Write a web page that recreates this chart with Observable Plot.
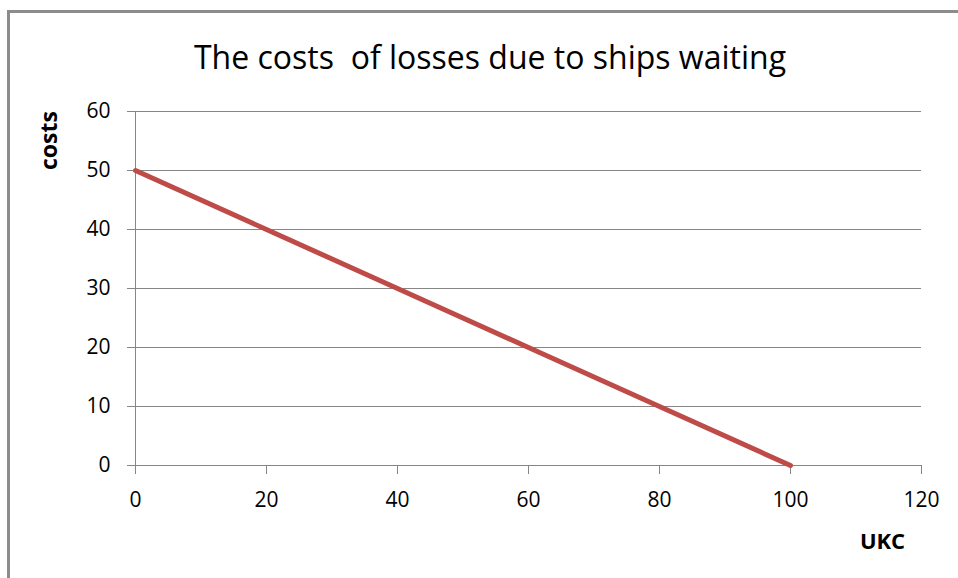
<!DOCTYPE html>
<html>
<head>
<meta charset="utf-8">
<script src="https://cdn.jsdelivr.net/npm/d3@7"></script>
<script src="https://cdn.jsdelivr.net/npm/@observablehq/plot@0.6"></script>
<style>
  html, body { margin: 0; padding: 0; background: #fff; overflow: hidden; }
  #frame { position: absolute; left: 7px; top: 10px; width: 1100px; height: 800px;
           border: 3px solid #8c8c8c; box-sizing: border-box; }
  #wrap { position: absolute; left: 0; top: 0; width: 958px; }
  #title { height: 90px; box-sizing: border-box; padding-top: 41px; text-align: center;
           font-family: "Open Sans", sans-serif; font-size: 32px; line-height: 32px;
           white-space: pre; color: #000; padding-left: 22px; }
</style>
</head>
<body>
<div id="frame"></div>
<div id="wrap">
  <div id="title">The costs  of losses due to ships waiting</div>
  <div id="chart"></div>
</div>
<script>
// Data
const ukc = [0, 20, 40, 60, 80, 100];
const costs = [50, 40, 30, 20, 10, 0];
const xTicks = [0, 20, 40, 60, 80, 100, 120];
const yTicks = [0, 10, 20, 30, 40, 50, 60];
const xLabel = "UKC";
const yLabel = "costs";

const data = ukc.map((u, i) => ({ukc: u, cost: costs[i]}));
const gray = "#868686";

const chart = Plot.plot({
  width: 958,
  height: 488,
  marginLeft: 135,
  marginRight: 37,
  marginTop: 21,
  marginBottom: 113,
  style: { fontFamily: "Open Sans, sans-serif", fontSize: "21px", color: "#000", background: "transparent", overflow: "visible" },
  x: { domain: [0, 120] },
  y: { domain: [0, 60] },
  marks: [
    Plot.gridY(yTicks, { stroke: gray, strokeOpacity: 1, strokeWidth: 1 }),
    Plot.ruleX([0], { stroke: gray, strokeWidth: 1 }),
    Plot.axisY(yTicks, { tickSize: 8, tickPadding: 17, stroke: gray, strokeOpacity: 1, label: null, fill: "#000" }),
    Plot.axisX(xTicks, { tickSize: 9, tickPadding: 18, stroke: gray, strokeOpacity: 1, label: null, fill: "#000" }),
    Plot.line(data, { x: "ukc", y: "cost", stroke: "#BE4B48", strokeWidth: 5, strokeLinecap: "round" }),
    Plot.text([yLabel], { frameAnchor: "top-left", dx: -95, dy: 29, rotate: -90, fontWeight: "bold", fontSize: 23, textAnchor: "middle", fill: "#000" }),
    Plot.text([xLabel], { frameAnchor: "bottom-right", dx: -39, dy: 83, fontWeight: "bold", fontSize: 22, textAnchor: "middle", fill: "#000" })
  ]
});
document.getElementById("chart").appendChild(chart);
</script>
</body>
</html>
